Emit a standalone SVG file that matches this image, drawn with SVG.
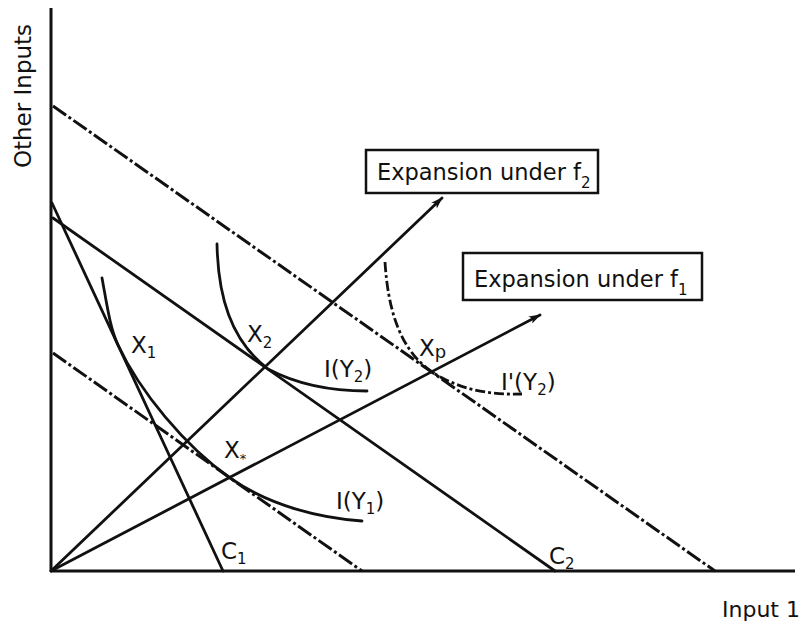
<svg xmlns="http://www.w3.org/2000/svg" width="809" height="631" viewBox="0 0 809 631">
<style>
.ln{stroke:#111;stroke-width:2.8;fill:none;stroke-linecap:round}
.ax{stroke:#111;stroke-width:3;fill:none}
.dd{stroke:#111;stroke-width:3;fill:none;stroke-dasharray:16 3 3 3}
.dc{stroke:#111;stroke-width:2.8;fill:none;stroke-dasharray:10 3 3 3}
.t{font-family:"DejaVu Sans","Liberation Sans",sans-serif;fill:#111}
.lb{font-size:23px}
.bx{fill:#fff;stroke:#111;stroke-width:2.5}
</style>
<defs>
<marker id="arr" viewBox="0 0 12 8" refX="11" refY="4" markerWidth="12" markerHeight="8" markerUnits="userSpaceOnUse" orient="auto">
<path d="M0,0 L12,4 L0,8 L3,4 Z" fill="#111"/>
</marker>
</defs>
<g id="axes">
<line class="ax" x1="51" y1="8" x2="51" y2="571"/>
<line class="ax" x1="51" y1="571" x2="795" y2="571"/>
<text class="t" font-size="23" transform="translate(31,96) rotate(-90)" text-anchor="middle">Other Inputs</text>
<text class="t" font-size="22" x="722" y="617">Input 1</text>
</g>
<g id="connectors">
<line id="budget-top" class="dd" x1="53" y1="106" x2="715" y2="571"/>
<line id="budget-low" class="dd" x1="53" y1="353" x2="362" y2="571"/>
<line id="C1-line" class="ln" x1="52" y1="203" x2="223" y2="571"/>
<line id="C2-line" class="ln" x1="53" y1="218" x2="555" y2="571"/>
<line id="exp-f2" class="ln" x1="51" y1="571" x2="442" y2="198" marker-end="url(#arr)"/>
<line id="exp-f1" class="ln" x1="51" y1="571" x2="540" y2="315" marker-end="url(#arr)"/>
<path id="IY1" class="ln" d="M102,278 C107,305 110,328 118,345 C140,392 185,446 230,478 C270,506 320,518 362,521"/>
<path id="IY2" class="ln" d="M217,244 C218,295 230,340 268,369 C300,386 335,391 367,391"/>
<path id="IpY2" class="dc" d="M385,262 C388,310 400,350 432,372 C460,390 490,395 522,394"/>
</g>
<g id="box-f2">
<rect class="bx" x="366" y="150" width="232" height="43"/>
<text class="t" font-size="22.5" x="377" y="180">Expansion under f<tspan font-size="15" dy="8">2</tspan></text>
</g>
<g id="box-f1">
<rect class="bx" x="463" y="253" width="239" height="47"/>
<text class="t" font-size="22.5" x="474" y="287">Expansion under f<tspan font-size="15" dy="8">1</tspan></text>
</g>
<g id="labels">
<text class="t lb" x="131" y="353">X<tspan font-size="15" dy="5">1</tspan></text>
<text class="t lb" x="247" y="342">X<tspan font-size="15" dy="6">2</tspan></text>
<text class="t lb" x="419" y="356">X<tspan font-size="18" dy="2">p</tspan></text>
<text class="t lb" x="324" y="377">I(Y<tspan font-size="15" dy="5">2</tspan><tspan dy="-5">)</tspan></text>
<text class="t lb" x="501" y="390">I'(Y<tspan font-size="15" dy="5">2</tspan><tspan dy="-5">)</tspan></text>
<text class="t lb" x="224" y="458">X<tspan font-size="13" dy="5">*</tspan></text>
<text class="t lb" x="336" y="509">I(Y<tspan font-size="15" dy="5">1</tspan><tspan dy="-5">)</tspan></text>
<text class="t lb" x="221" y="559">C<tspan font-size="15" dy="5">1</tspan></text>
<text class="t lb" x="549" y="564">C<tspan font-size="15" dy="5">2</tspan></text>
</g>
</svg>
